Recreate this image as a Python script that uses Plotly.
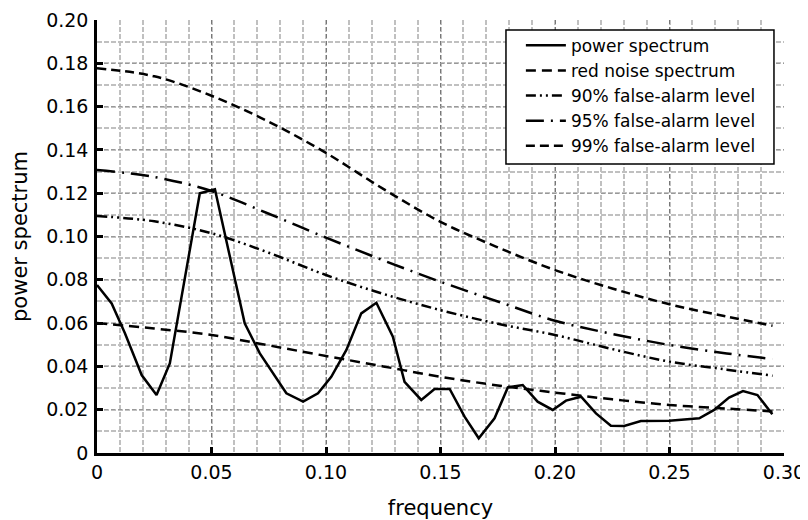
import plotly.graph_objects as go

# power spectrum
ps_freq = [0.0, 0.0064, 0.0122, 0.0195, 0.026, 0.0318, 0.0449, 0.0515, 0.0645, 0.0711,
           0.0827, 0.09, 0.0965, 0.1023, 0.1089, 0.1154, 0.122, 0.1292, 0.1343, 0.1416,
           0.1474, 0.154, 0.1605, 0.1667, 0.1736, 0.1794, 0.1859, 0.1924, 0.199, 0.2048,
           0.2114, 0.2179, 0.2244, 0.2302, 0.2375, 0.2499, 0.263, 0.2695, 0.276, 0.2821,
           0.2884, 0.2949]
ps_vals = [0.0776, 0.0691, 0.0553, 0.036, 0.0268, 0.0414, 0.120, 0.1218, 0.0599, 0.046,
           0.0276, 0.0237, 0.0276, 0.0352, 0.0476, 0.0645, 0.0694, 0.0537, 0.0329, 0.0245,
           0.0296, 0.0296, 0.0168, 0.0068, 0.016, 0.0303, 0.0314, 0.0237, 0.0199, 0.0242,
           0.026, 0.0183, 0.0126, 0.0125, 0.0148, 0.0149, 0.016, 0.0199, 0.0256, 0.0286,
           0.0268, 0.0179]

# threshold curves
lvl_freq = [0.0, 0.025, 0.05, 0.075, 0.10, 0.125, 0.15, 0.175, 0.20, 0.225, 0.25, 0.275, 0.295]
red_noise = [0.060, 0.0575, 0.0545, 0.0497, 0.0448, 0.0400, 0.0352, 0.0312, 0.0279, 0.0248, 0.0222, 0.0205, 0.0192]
lvl90 = [0.1095, 0.1070, 0.1015, 0.0925, 0.0822, 0.0735, 0.0660, 0.0597, 0.0545, 0.0480, 0.0422, 0.0385, 0.0357]
lvl95 = [0.1307, 0.1275, 0.1210, 0.1105, 0.0995, 0.0890, 0.0791, 0.0700, 0.0611, 0.0550, 0.0499, 0.0460, 0.0434]
lvl99 = [0.1777, 0.1740, 0.1650, 0.1530, 0.1386, 0.1220, 0.1068, 0.0950, 0.0845, 0.0760, 0.0687, 0.0630, 0.0588]

x_ticks = [0, 0.05, 0.10, 0.15, 0.20, 0.25, 0.30]
x_tick_text = ["0", "0.05", "0.10", "0.15", "0.20", "0.25", "0.30"]
y_ticks = [0, 0.02, 0.04, 0.06, 0.08, 0.10, 0.12, 0.14, 0.16, 0.18, 0.20]
y_tick_text = ["0", "0.02", "0.04", "0.06", "0.08", "0.10", "0.12", "0.14", "0.16", "0.18", "0.20"]

FONT = "DejaVu Sans, Liberation Sans, Arial, sans-serif"

fig = go.Figure()
fig.add_trace(go.Scatter(x=ps_freq, y=ps_vals, mode="lines", name="power spectrum",
                         line=dict(color="black", width=2.5)))
fig.add_trace(go.Scatter(x=lvl_freq, y=red_noise, mode="lines", name="red noise spectrum",
                         line=dict(color="black", width=2.5, dash="10px,6px", shape="spline")))
fig.add_trace(go.Scatter(x=lvl_freq, y=lvl90, mode="lines", name="90% false-alarm level",
                         line=dict(color="black", width=2.5, dash="10px,4px,2px,4px,2px,4px", shape="spline")))
fig.add_trace(go.Scatter(x=lvl_freq, y=lvl95, mode="lines", name="95% false-alarm level",
                         line=dict(color="black", width=2.5, dash="18px,7px,2px,7px", shape="spline")))
fig.add_trace(go.Scatter(x=lvl_freq, y=lvl99, mode="lines", name="99% false-alarm level",
                         line=dict(color="black", width=2.5, dash="9px,5px", shape="spline")))

# legend frame
fig.add_shape(type="rect", xref="paper", yref="paper",
              x0=0.5953, x1=0.9854, y0=0.6674, y1=0.9769,
              line=dict(color="black", width=1.5), fillcolor="white", layer="above")

fig.update_layout(
    width=800, height=512,
    margin=dict(l=89, r=24, t=12, b=67),
    paper_bgcolor="white", plot_bgcolor="white",
    font=dict(family=FONT, size=19, color="black"),
    showlegend=True,
    legend=dict(x=0.617, y=0.982, xanchor="left", yanchor="top",
                bgcolor="rgba(0,0,0,0)", borderwidth=0,
                font=dict(family=FONT, size=17, color="black"),
                itemwidth=40, tracegroupgap=0),
    xaxis=dict(range=[0, 0.30], tickvals=x_ticks, ticktext=x_tick_text,
               ticks="inside", ticklen=6, tickwidth=3, tickcolor="black",
               tickfont=dict(family=FONT, size=19),
               showline=True, linecolor="black", linewidth=2.5, mirror=False,
               showgrid=True, gridcolor="#777", griddash="4px,3px", gridwidth=1,
               minor=dict(dtick=0.01, showgrid=True, gridcolor="#c0c0c0", griddash="5px,2px", gridwidth=1.5),
               zeroline=False, automargin=False,
               title=dict(text="frequency", font=dict(family=FONT, size=21), standoff=20)),
    yaxis=dict(range=[0, 0.20], tickvals=y_ticks, ticktext=y_tick_text,
               ticks="inside", ticklen=6, tickwidth=3, tickcolor="black",
               tickfont=dict(family=FONT, size=19), ticklabelstandoff=2,
               showline=True, linecolor="black", linewidth=2.5, mirror=False,
               showgrid=True, gridcolor="#999", griddash="4px,3px", gridwidth=1,
               minor=dict(dtick=0.01, showgrid=True, gridcolor="#c0c0c0", griddash="5px,2px", gridwidth=1.5),
               zeroline=False, automargin=False,
               title=dict(text="power spectrum", font=dict(family=FONT, size=21), standoff=29)),
)

fig.write_html("out.html")
